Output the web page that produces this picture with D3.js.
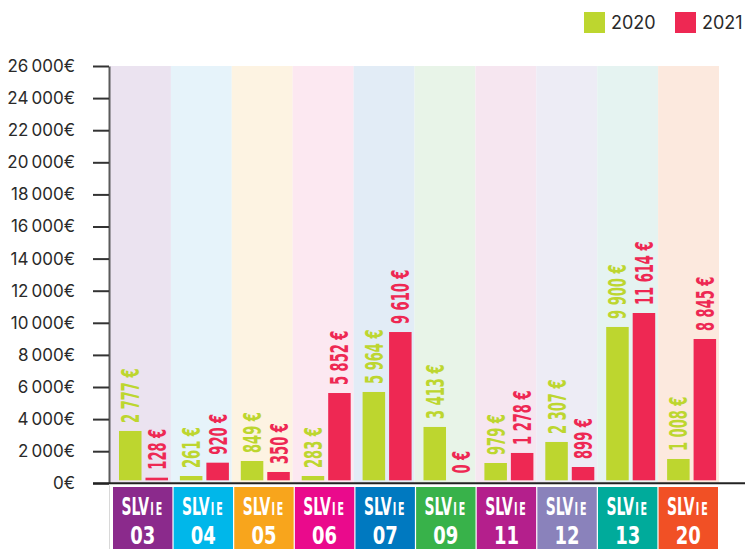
<!DOCTYPE html>
<html>
<head>
<meta charset="utf-8">
<script src="https://cdn.jsdelivr.net/npm/d3@7"></script>
<style>
  body { margin: 0; background: #fff; }
  svg { display: block; }
</style>
</head>
<body>
<div id="chart"></div>
<script>
const width = 745;
const height = 549;

// categories (SLVie sections)
const categories = ['03', '04', '05', '06', '07', '09', '11', '12', '13', '20'];
const seriesNames = ['2020', '2021'];

// printed amounts
const values2020 = [2777, 261, 849, 283, 5964, 3413, 979, 2307, 9900, 1008];
const values2021 = [128, 920, 350, 5852, 9610, 0, 1278, 899, 11614, 8845];

// bar heights as drawn in the picture (they do not follow the printed amounts)
const bars2020 = [3260, 455, 1390, 455, 5690, 3510, 1265, 2575, 9740, 1515];
const bars2021 = [350, 1285, 705, 5625, 9425, 110, 1890, 1015, 10610, 8990];

const yTicks = [0, 2000, 4000, 6000, 8000, 10000, 12000, 14000, 16000, 18000, 20000, 22000, 24000, 26000];

const seriesColors = ['#bdd62f', '#ee2853'];
const bandColors = ['#ebe3f0', '#e6f3fa', '#fdf3e2', '#fce8f1', '#e2ecf6', '#e8f4e8', '#f6e6f0', '#edecf5', '#e5f3f1', '#fce9de'];
const boxColors = ['#8b2a8c', '#00b7ea', '#f8a51c', '#ea0a8c', '#0079c0', '#38b24a', '#b41f8c', '#8a82bb', '#00ab9b', '#f15025'];

const axisFmt = d3.formatLocale({ decimal: ',', thousands: '\u202f', grouping: [3], currency: ['', '€'] }).format(',d');
const barFmt = d3.formatLocale({ decimal: ',', thousands: ' ', grouping: [3], currency: ['', '€'] }).format(',d');

const condensed = '"DejaVu Sans Condensed", "DejaVu Sans", sans-serif';

const svg = d3.select('#chart').append('svg')
  .attr('width', width)
  .attr('height', height);

const x0 = d3.scaleBand().domain(categories).range([110, 719]);
const x1 = d3.scaleBand().domain(seriesNames).range([9, 58]).paddingInner(0.15);
const xBox = d3.scaleBand().domain(categories).range([113, 718]).paddingInner(0.02);
const y = d3.scaleLinear().domain([0, 26000]).range([483.3, 66]);

const rows = categories.map((c, i) => ({
  cat: c,
  band: bandColors[i],
  box: boxColors[i],
  series: [
    { name: '2020', bar: bars2020[i], value: values2020[i], color: seriesColors[0] },
    { name: '2021', bar: bars2021[i], value: values2021[i], color: seriesColors[1] },
  ],
}));

// pale column backgrounds
svg.append('g').selectAll('rect')
  .data(rows)
  .enter()
  .append('rect')
  .attr('x', d => x0(d.cat))
  .attr('y', y(26000))
  .attr('width', x0.bandwidth())
  .attr('height', y(0) - y(26000))
  .attr('fill', d => d.band);

// bars
const groups = svg.append('g').selectAll('g')
  .data(rows)
  .enter()
  .append('g')
  .attr('transform', d => `translate(${x0(d.cat)},0)`);

groups.selectAll('rect')
  .data(d => d.series)
  .enter()
  .append('rect')
  .attr('x', d => x1(d.name))
  .attr('y', d => y(d.bar))
  .attr('width', x1.bandwidth())
  .attr('height', d => y(0) - 3 - y(d.bar))
  .attr('fill', d => d.color);

// rotated value labels
groups.selectAll('text')
  .data(d => d.series)
  .enter()
  .append('text')
  .attr('transform', d => `translate(${x1(d.name) + x1.bandwidth() / 2},${y(d.bar) - 8}) rotate(-90) scale(0.58,1)`)
  .attr('dy', '0.36em')
  .style('font-family', condensed)
  .style('font-weight', 'bold')
  .style('font-size', '25px')
  .style('fill', d => d.color)
  .text(d => barFmt(d.value) + ' €');

// y axis
const yAxis = svg.append('g')
  .attr('transform', 'translate(109,0)')
  .call(d3.axisLeft(y).tickValues(yTicks).tickSize(16).tickSizeOuter(0).tickPadding(18)
    .tickFormat(d => axisFmt(d) + '€'));

yAxis.select('.domain').attr('stroke', '#5a5a5a').attr('stroke-width', 2);
yAxis.selectAll('.tick line').attr('stroke', '#333').attr('stroke-width', 2);
yAxis.selectAll('.tick text')
  .style('font-family', 'Inter, sans-serif')
  .style('font-size', '17px')
  .style('fill', '#2a2a2a');

// baseline
svg.append('line')
  .attr('x1', 93).attr('x2', width)
  .attr('y1', y(0)).attr('y2', y(0))
  .attr('stroke', '#222')
  .attr('stroke-width', 2);

svg.append('line')
  .attr('x1', 109.5).attr('x2', 109.5)
  .attr('y1', y(0) + 2).attr('y2', height)
  .attr('stroke', '#d8d8d8');

// category boxes
const boxes = svg.append('g').selectAll('g')
  .data(rows)
  .enter()
  .append('g')
  .attr('transform', d => `translate(${xBox(d.cat)},487)`);

boxes.append('rect')
  .attr('width', xBox.bandwidth())
  .attr('height', height - 487)
  .attr('fill', d => d.box);

const label1 = boxes.append('text')
  .attr('transform', `translate(${xBox.bandwidth() / 2},28) scale(0.62,1)`)
  .attr('text-anchor', 'middle')
  .style('font-family', condensed)
  .style('font-weight', 'bold')
  .style('font-size', '25px')
  .style('fill', '#fff');
label1.append('tspan').text('SLV');
label1.append('tspan')
  .attr('dx', 2)
  .style('font-size', '17px')
  .style('letter-spacing', '3px')
  .text('IE');

boxes.append('text')
  .attr('transform', `translate(${xBox.bandwidth() / 2},57) scale(0.8,1)`)
  .attr('text-anchor', 'middle')
  .style('font-family', condensed)
  .style('font-weight', 'bold')
  .style('font-size', '25px')
  .style('fill', '#fff')
  .text(d => d.cat);

// legend
const legend = svg.append('g').attr('transform', 'translate(584,12)');
const items = legend.selectAll('g')
  .data(seriesNames)
  .enter()
  .append('g')
  .attr('transform', (d, i) => `translate(${i * 91},0)`);

items.append('rect')
  .attr('width', 21)
  .attr('height', 21)
  .attr('fill', (d, i) => seriesColors[i]);

items.append('text')
  .attr('x', 27)
  .attr('y', 17)
  .style('font-family', 'Inter, sans-serif')
  .style('font-size', '18px')
  .style('fill', '#2a2a2a')
  .text(d => d);
</script>
</body>
</html>
